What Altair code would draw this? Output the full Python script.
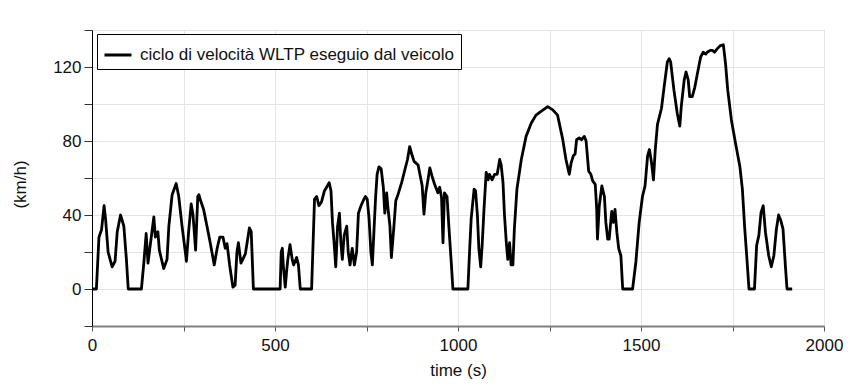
import altair as alt
import pandas as pd

time_s = [0, 12, 19, 26, 33, 37, 44, 55, 63, 69, 78, 87, 94, 99, 135, 142, 148, 153, 160, 169,
          173, 180, 184, 196, 205, 210, 219, 230, 237, 246, 255, 258, 264, 271, 276, 283, 289, 292, 298, 305,
          314, 323, 334, 342, 349, 358, 364, 369, 376, 385, 391, 396, 400, 407, 412, 419, 430, 435, 441, 514,
          517, 520, 523, 528, 532, 535, 541, 547, 551, 559, 564, 569, 600, 608, 614, 620, 627, 635, 641, 648,
          653, 657, 662, 666, 671, 676, 680, 684, 689, 696, 700, 705, 711, 717, 723, 728, 735, 741, 747, 752,
          757, 762, 766, 771, 775, 779, 784, 790, 796, 800, 805, 809, 814, 818, 825, 830, 836, 846, 855, 862,
          868, 875, 880, 891, 897, 902, 907, 912, 918, 923, 929, 936, 945, 950, 955, 959, 963, 970, 975, 982,
          986, 1027, 1032, 1036, 1044, 1048, 1053, 1057, 1062, 1066, 1071, 1077, 1082, 1086, 1093, 1100, 1107, 1114, 1118, 1123,
          1127, 1132, 1136, 1141, 1145, 1150, 1154, 1161, 1173, 1186, 1200, 1213, 1227, 1245, 1259, 1272, 1286, 1295, 1304, 1309,
          1315, 1320, 1324, 1331, 1338, 1345, 1350, 1357, 1363, 1368, 1375, 1379, 1381, 1386, 1393, 1400, 1404, 1409, 1413, 1420,
          1425, 1429, 1434, 1439, 1445, 1450, 1477, 1486, 1495, 1504, 1511, 1518, 1523, 1529, 1534, 1539, 1545, 1556, 1563, 1572,
          1577, 1581, 1590, 1599, 1606, 1610, 1618, 1623, 1629, 1633, 1640, 1647, 1654, 1663, 1670, 1677, 1681, 1689, 1695, 1701,
          1708, 1717, 1725, 1731, 1737, 1747, 1758, 1770, 1777, 1783, 1790, 1795, 1810, 1816, 1822, 1828, 1834, 1840, 1849, 1856,
          1863, 1870, 1876, 1882, 1888, 1895, 1899, 1913]

speed_kmh = [0, 0, 28, 32, 45, 38, 20, 12, 15, 31, 40, 34, 16, 0, 0, 15, 30, 14, 25, 39,
             28, 31, 21, 11, 16, 34, 51, 57, 50, 34, 20, 15, 31, 46, 40, 21, 50, 51, 47, 43,
             34, 25, 13, 22, 28, 28, 22, 24.5, 13, 1, 2, 20, 25, 14, 16, 19, 33, 31, 0, 0,
             20, 22, 12, 1, 10, 16, 24, 16, 13, 17, 13, 0, 0, 48.6, 50, 45, 47, 53, 55, 57.5,
             53, 36, 23.5, 12, 34, 41, 25, 16, 29, 34, 20, 13, 22, 13, 20, 41, 45, 47.7, 50, 48.6,
             38, 20, 13, 34, 50, 62, 66, 65, 55, 41, 52, 43, 34, 17, 34, 47.7, 51, 57.5, 64.6, 70,
             77, 72, 69, 67, 61, 56, 40.5, 52, 59, 65.5, 61, 56.6, 52, 55, 49.5, 25, 52, 50, 34, 13,
             0, 0, 22, 38, 54, 53, 40, 22, 12, 23.6, 43, 63, 59, 62, 59, 62, 62, 70, 67, 57.5,
             40, 25, 16, 25, 13, 13, 32.5, 54, 70, 82.5, 89.6, 94, 96, 98.6, 96.8, 94, 81, 70, 62, 68,
             72, 73, 80.7, 81.6, 80.7, 82.5, 80, 63.7, 62, 58.4, 56.6, 43, 27, 45, 55.7, 50, 36, 27, 27, 42,
             36, 43, 30.7, 22, 18, 0, 0, 14.6, 36, 50, 55.7, 72, 75.4, 68, 59, 75.4, 89, 97.7, 109, 122.7,
             124.5, 122.7, 107.5, 95, 88, 98.6, 112.9, 117.3, 113, 104, 104, 109, 116.4, 125.4, 128, 127, 128, 129, 129, 128,
             129.8, 131.6, 132, 121.8, 107.5, 91.4, 79, 66.4, 54, 34, 14.6, 0, 0, 23.6, 29, 41.4, 45, 30.7, 18, 12,
             18, 32.5, 40, 37, 32.5, 11, 0, 0]

series_name = ["ciclo di velocità WLTP eseguio dal veicolo"]
x_ticks = [0, 250, 500, 750, 1000, 1250, 1500, 1750, 2000]
y_ticks = [-20, 0, 20, 40, 60, 80, 100, 120, 140]

df = pd.DataFrame({"t": time_s, "v": speed_kmh, "s": series_name * len(time_s)})

FONT = "Liberation Sans"
FS = 17

chart = (
    alt.Chart(df)
    .mark_line(strokeWidth=2.8, strokeJoin="round")
    .encode(
        x=alt.X(
            "t:Q",
            scale=alt.Scale(domain=[0, 2000], nice=False, zero=False),
            axis=alt.Axis(
                values=x_ticks,
                labelExpr="datum.value % 500 == 0 ? datum.label : ''",
                title="time (s)",
                grid=True,
                gridColor="#e4e4e4",
                gridWidth=1,
                domainColor="#808080",
                domainWidth=2,
                tickColor="#555555",
                tickSize=5,
                tickWidth=1,
                labelFont=FONT,
                labelFontSize=FS,
                labelColor="#111111",
                labelPadding=6,
                labelFlush=False,
                labelOverlap=False,
                titleFont=FONT,
                titleFontSize=FS,
                titleFontWeight="normal",
                titleColor="#111111",
                titleBaseline="middle",
                titleY=44,
                format="d",
            ),
        ),
        y=alt.Y(
            "v:Q",
            scale=alt.Scale(domain=[-20, 140], nice=False, zero=False),
            axis=alt.Axis(
                values=y_ticks,
                labelExpr="datum.value % 40 == 0 ? datum.label : ''",
                title="(km/h)",
                grid=True,
                gridColor="#e4e4e4",
                gridWidth=1,
                domainColor="#000000",
                domainWidth=1,
                tickColor="#333333",
                tickSize=8,
                tickWidth=1,
                labelFont=FONT,
                labelFontSize=FS,
                labelColor="#111111",
                labelPadding=3,
                labelFlush=False,
                labelOverlap=False,
                titleFont=FONT,
                titleFontSize=FS,
                titleFontWeight="normal",
                titleColor="#111111",
                titleAngle=270,
                titleBaseline="middle",
                titleX=-72,
                titleY=154,
                format="d",
            ),
        ),
        color=alt.Color(
            "s:N",
            scale=alt.Scale(domain=series_name, range=["#000000"]),
            legend=alt.Legend(
                title=None,
                orient="none",
                legendX=5,
                legendY=4,
                strokeColor="#000000",
                fillColor="#ffffff",
                padding=6,
                cornerRadius=0,
                symbolType="stroke",
                symbolSize=729,
                symbolStrokeWidth=3,
                symbolStrokeColor="#000000",
                labelFont=FONT,
                labelFontSize=FS,
                labelColor="#111111",
                labelOffset=7,
                labelLimit=500,
            ),
        ),
    )
    .properties(
        width=732,
        height=296,
        autosize=alt.AutoSizeParams(type="none"),
        padding={"left": 84, "top": 22, "right": 19, "bottom": 55},
    )
    .configure_view(stroke="#000000", strokeWidth=1)
    .configure(background="#ffffff")
)

chart.save("out.html", embed_options={"renderer": "svg", "actions": False})
